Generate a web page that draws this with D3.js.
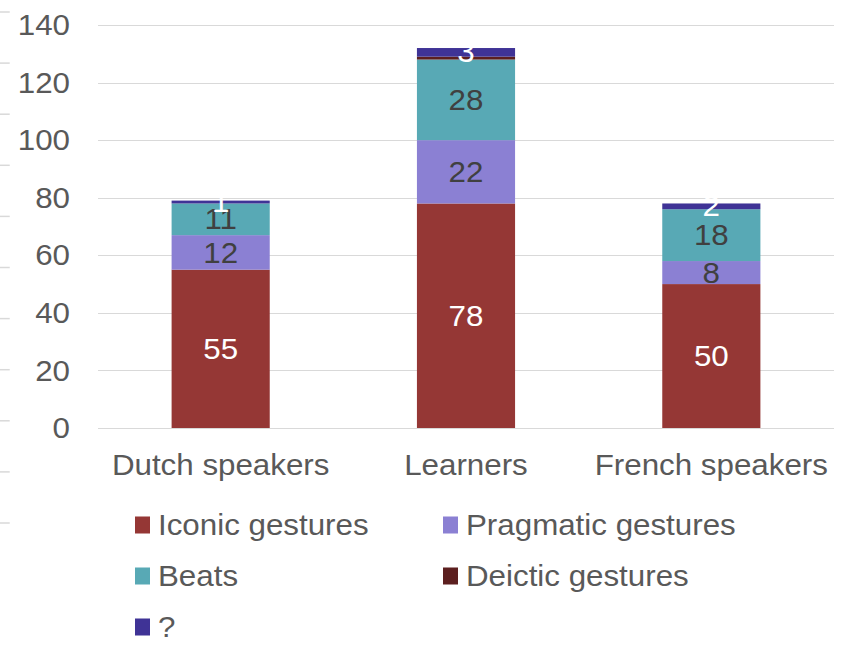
<!DOCTYPE html>
<html>
<head>
<meta charset="utf-8">
<script src="https://cdnjs.cloudflare.com/ajax/libs/d3/7.8.5/d3.min.js"></script>
<style>
  html, body { margin: 0; padding: 0; background: #fff; }
  #graph { width: 847px; height: 649px; }
  text { font-family: "Liberation Sans", Arial, sans-serif; }
</style>
</head>
<body>
<div id="graph"></div>
<script>
//Javascript Document

(function(){
	"use strict";

	// chart values
	var groups = ["Dutch speakers", "Learners", "French speakers"];
	var seriesNames = ["Iconic gestures", "Pragmatic gestures", "Beats", "Deictic gestures", "?"];
	var iconic = [55, 78, 50];
	var pragmatic = [12, 22, 8];
	var beats = [11, 28, 18];
	var deictic = [0, 1, 0];
	var unknown = [1, 3, 2];
	var yTicks = [0, 20, 40, 60, 80, 100, 120, 140];
	var edgeTicks = [0, 1, 2, 3, 4, 5, 6, 7, 8, 9, 10]; // stray marks on the far left

	var colours = ["#953735", "#8b80d3", "#58a9b5", "#5c1f1f", "#3f3396"];
	var labelColours = ["#ffffff", "#404040", "#404040", null, "#ffffff"];

	// the picture is a bit wider than the fonts are, so stretch x a little
	var sx = 1.08;
	var W = 847 / sx, H = 649;

	var svg = d3.select("#graph").append("svg")
		.attr("width", 847)
		.attr("height", 649)
		.attr("viewBox", "0 0 " + W + " " + H)
		.attr("preserveAspectRatio", "none");

	var left = 98 / sx, right = 834 / sx;

	var x = d3.scaleBand()
		.domain(groups)
		.range([left, right])
		.paddingInner(0.6)
		.paddingOuter(0.3);

	var y = d3.scaleLinear()
		.domain([0, 140])
		.range([428, 25]);

	// build table rows for the stack
	var rows = groups.map(function(g, i) {
		return {
			group: g,
			"Iconic gestures": iconic[i],
			"Pragmatic gestures": pragmatic[i],
			"Beats": beats[i],
			"Deictic gestures": deictic[i],
			"?": unknown[i]
		};
	});

	var stack = d3.stack().keys(seriesNames)(rows);

	// stray tick marks at the very left edge
	var e = d3.scaleLinear().domain([0, 10]).range([12, 523]);
	svg.append("g").selectAll("line")
		.data(edgeTicks)
		.enter().append("line")
		.attr("x1", 0)
		.attr("x2", 9)
		.attr("y1", function(d) { return e(d); })
		.attr("y2", function(d) { return e(d); })
		.attr("stroke", "#d9d9d9")
		.attr("stroke-width", 1.5);

	// gridlines
	svg.append("g").selectAll("line")
		.data(yTicks)
		.enter().append("line")
		.attr("x1", left)
		.attr("x2", right)
		.attr("y1", function(d) { return Math.round(y(d)) + 0.5; })
		.attr("y2", function(d) { return Math.round(y(d)) + 0.5; })
		.attr("stroke", "#d9d9d9")
		.attr("stroke-width", 1.2);

	// y tick labels
	svg.append("g").selectAll("text")
		.data(yTicks)
		.enter().append("text")
		.attr("x", 70 / sx)
		.attr("y", function(d) { return y(d); })
		.attr("dy", "0.35em")
		.attr("text-anchor", "end")
		.attr("font-size", "29px")
		.attr("fill", "#595959")
		.text(function(d) { return d; });

	// stacked bars
	var layer = svg.selectAll(".series")
		.data(stack)
		.enter().append("g")
		.attr("class", "series")
		.attr("fill", function(d, i) { return colours[i]; });

	layer.selectAll("rect")
		.data(function(d) { return d; })
		.enter().append("rect")
		.attr("x", function(d) { return x(d.data.group); })
		.attr("y", function(d) { return y(d[1]); })
		.attr("height", function(d) { return y(d[0]) - y(d[1]); })
		.attr("width", x.bandwidth());

	// data labels, centred in each segment (deictic ones are not shown)
	stack.forEach(function(s, si) {
		if (!labelColours[si]) return;
		svg.append("g").selectAll("text")
			.data(s.filter(function(d) { return d[1] - d[0] > 0; }))
			.enter().append("text")
			.attr("x", function(d) { return x(d.data.group) + x.bandwidth() / 2; })
			.attr("y", function(d) { return y((d[0] + d[1]) / 2); })
			.attr("dy", "0.35em")
			.attr("text-anchor", "middle")
			.attr("font-size", "29px")
			.attr("fill", labelColours[si])
			.text(function(d) { return d[1] - d[0]; });
	});

	// category labels
	svg.append("g").selectAll("text")
		.data(groups)
		.enter().append("text")
		.attr("x", function(d) { return x(d) + x.bandwidth() / 2; })
		.attr("y", 475)
		.attr("text-anchor", "middle")
		.attr("font-size", "29px")
		.attr("fill", "#595959")
		.text(function(d) { return d; });

	// legend, two columns
	var legend = svg.selectAll(".legend")
		.data(seriesNames)
		.enter().append("g")
		.attr("class", "legend")
		.attr("transform", function(d, i) {
			var col = i % 2, row = Math.floor(i / 2);
			return "translate(" + (col === 0 ? 135 / sx : 443 / sx) + "," + (525 + row * 51) + ")";
		});

	legend.append("rect")
		.attr("x", 0)
		.attr("y", -8.5)
		.attr("width", 15 / sx)
		.attr("height", 17)
		.attr("fill", function(d, i) { return colours[i]; });

	legend.append("text")
		.attr("x", 23 / sx)
		.attr("y", 0)
		.attr("dy", "0.35em")
		.attr("font-size", "29px")
		.attr("fill", "#595959")
		.text(function(d) { return d; });

})();
</script>
</body>
</html>
